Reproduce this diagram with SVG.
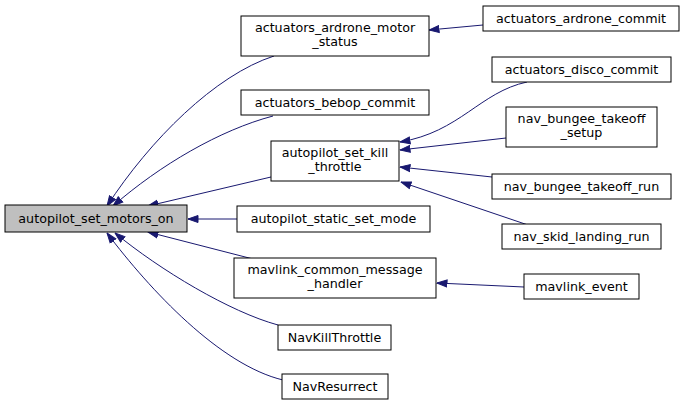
<svg xmlns="http://www.w3.org/2000/svg" width="685" height="407" viewBox="0 0 685 407">
<style>
.n rect{fill:#fff;stroke:#000;stroke-width:1}
.n.main rect{fill:#bfbfbf}
text{font-family:"DejaVu Sans","Liberation Sans",sans-serif;font-size:12.7px;fill:#000;text-anchor:middle}
.e path{fill:none;stroke:#191970;stroke-width:1;marker-end:url(#ah)}
</style>
<defs>
<marker id="ah" markerUnits="userSpaceOnUse" markerWidth="11" markerHeight="9" refX="10" refY="4" orient="auto" viewBox="-0.5 0 11 8">
<path d="M0,0.5 L10,4 L0,7.5 z" fill="#191970" stroke="#191970" stroke-width="1"/>
</marker>
</defs>
<rect width="685" height="407" fill="#fff"/>
<g id="edges" class="e">
<path d="M483,25 L429,30"/>
<path d="M274,56 C215,75 150,140 107,206"/>
<path d="M273,116 C220,130 160,165 113,206"/>
<path d="M271,177 L148,206"/>
<path d="M237,219 L188,219"/>
<path d="M253,259 L148,232"/>
<path d="M278,325 C230,312 160,270 115,233"/>
<path d="M283,380 C220,365 150,290 107,233"/>
<path d="M527,82 C480,92 460,132 400,142"/>
<path d="M506,138 L400,150"/>
<path d="M492,177 L400,167"/>
<path d="M528,225 L401,182"/>
<path d="M524,287 L437,283"/>
</g>
<g id="autopilot_set_motors_on" class="n main"><rect x="5" y="205" width="182" height="27"/><text x="96" y="223">autopilot_set_motors_on</text></g>
<g id="actuators_ardrone_motor_status" class="n"><rect x="241" y="16" width="188" height="40"/><text x="335" y="31.7">actuators_ardrone_motor</text><text x="335" y="46">_status</text></g>
<g id="actuators_bebop_commit" class="n"><rect x="241" y="90" width="188" height="25"/><text x="335" y="107">actuators_bebop_commit</text></g>
<g id="autopilot_set_kill_throttle" class="n"><rect x="271" y="141" width="128" height="40"/><text x="335" y="156.7">autopilot_set_kill</text><text x="335" y="171">_throttle</text></g>
<g id="autopilot_static_set_mode" class="n"><rect x="237" y="206" width="193" height="26"/><text x="333.5" y="223">autopilot_static_set_mode</text></g>
<g id="mavlink_common_message_handler" class="n"><rect x="234" y="258" width="202" height="40"/><text x="335" y="273.7">mavlink_common_message</text><text x="335" y="288">_handler</text></g>
<g id="NavKillThrottle" class="n"><rect x="278" y="325" width="113" height="25"/><text x="334.5" y="342">NavKillThrottle</text></g>
<g id="NavResurrect" class="n"><rect x="282" y="374" width="106" height="25"/><text x="335" y="391">NavResurrect</text></g>
<g id="actuators_ardrone_commit" class="n"><rect x="483" y="6" width="196" height="25"/><text x="581" y="23">actuators_ardrone_commit</text></g>
<g id="actuators_disco_commit" class="n"><rect x="492" y="57" width="179" height="25"/><text x="581.5" y="74">actuators_disco_commit</text></g>
<g id="nav_bungee_takeoff_setup" class="n"><rect x="506" y="107" width="151" height="40"/><text x="581.5" y="122.7">nav_bungee_takeoff</text><text x="581.5" y="137">_setup</text></g>
<g id="nav_bungee_takeoff_run" class="n"><rect x="492" y="174" width="179" height="25"/><text x="581.5" y="191">nav_bungee_takeoff_run</text></g>
<g id="nav_skid_landing_run" class="n"><rect x="502" y="224" width="159" height="25"/><text x="581.5" y="241">nav_skid_landing_run</text></g>
<g id="mavlink_event" class="n"><rect x="524" y="274" width="115" height="25"/><text x="581.5" y="291">mavlink_event</text></g>
</svg>
